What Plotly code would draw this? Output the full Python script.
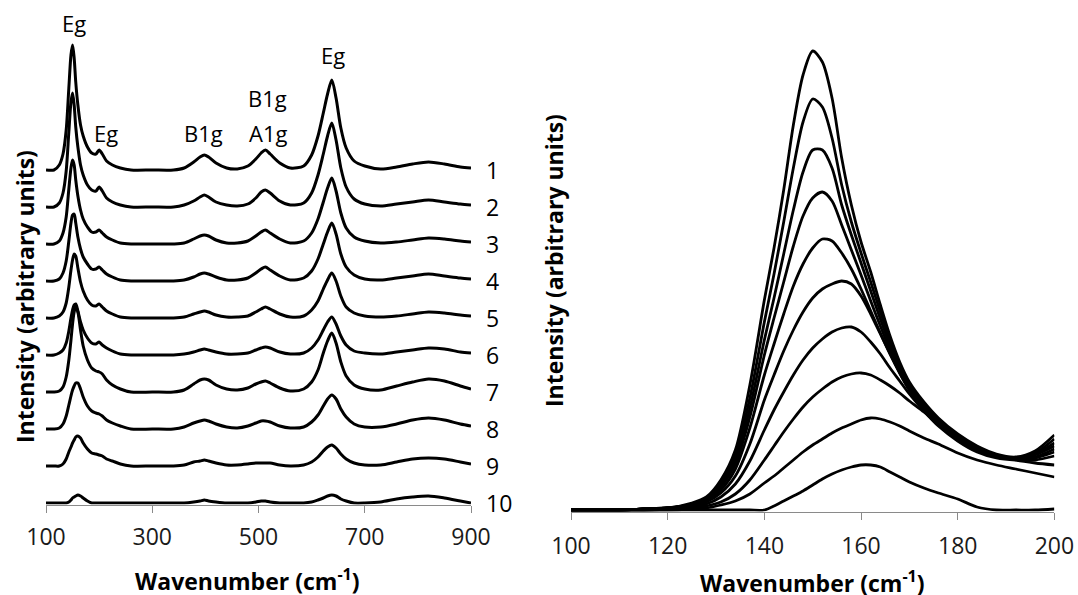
import plotly.graph_objects as go

# ---------------- Left panel: stacked Raman spectra ----------------
XL = [100, 115, 125, 132, 138, 143, 147, 150, 153, 156, 160, 165, 170, 178, 186, 194, 200, 206, 214, 225,
      240, 260, 300, 340, 360, 378, 390, 398, 406, 420, 440, 460, 480, 495, 505, 513, 522, 540, 560, 585,
      600, 612, 622, 630, 638, 646, 655, 665, 680, 700, 730, 760, 790, 820, 850, 880, 900]

C1 = [0, 0, 5, 16, 40, 82, 115, 125, 112, 88, 65, 45, 34, 23, 17, 16, 20, 16, 9, 5,
      2, 0, 0, 0, 2, 8, 13, 15, 13, 7, 2, 1, 4, 11, 17, 20, 16, 7, 2, 4,
      15, 34, 57, 76, 90, 72, 42, 22, 9, 4, 1, 3, 6, 8, 6, 3, 2]
C2 = [0, 0, 4, 14, 36, 75, 105, 114, 102, 80, 60, 42, 32, 22, 17, 16, 20, 16, 9, 5,
      2, 0, 0, 0, 2, 6, 10, 12, 10, 5, 2, 1, 3, 9, 15, 17, 14, 6, 2, 4,
      14, 32, 53, 71, 84, 67, 39, 20, 8, 3, 1, 3, 5, 7, 5, 3, 2]
C3 = [0, 0, 3, 11, 27, 55, 76, 84, 79, 64, 48, 34, 25, 17, 12, 12, 14, 11, 7, 4,
      1, 0, 0, 0, 1, 5, 8, 9, 8, 4, 1, 1, 3, 8, 12, 14, 11, 5, 1, 3,
      11, 25, 42, 56, 66, 53, 31, 16, 7, 3, 1, 2, 4, 6, 5, 3, 2]
C4 = [0, 0, 2, 8, 20, 40, 58, 66, 67, 58, 44, 32, 24, 17, 12, 12, 14, 11, 7, 4,
      1, 0, 0, 0, 1, 4, 7, 8, 7, 4, 1, 1, 3, 8, 12, 14, 11, 5, 1, 3,
      10, 22, 37, 49, 58, 47, 27, 14, 6, 2, 1, 3, 5, 7, 5, 3, 2]
C5 = [0, 0, 2, 6, 15, 31, 48, 58, 64, 62, 50, 36, 27, 18, 13, 12, 14, 11, 7, 4,
      1, 0, 0, 0, 1, 4, 6, 7, 6, 3, 1, 1, 2, 6, 9, 11, 9, 4, 1, 2,
      8, 17, 29, 38, 45, 37, 22, 11, 5, 2, 1, 2, 4, 6, 5, 3, 2]
C6 = [0, 0, 2, 5, 12, 24, 37, 45, 50, 51, 44, 33, 25, 17, 12, 11, 13, 10, 7, 4,
      1, 0, 0, 0, 1, 3, 5, 6, 5, 3, 1, 1, 2, 5, 7, 8, 7, 3, 1, 2,
      7, 15, 25, 33, 38, 31, 19, 10, 4, 2, 1, 3, 5, 7, 6, 3, 2]
C7 = [0, 0, 1, 5, 15, 32, 52, 68, 80, 85, 80, 62, 46, 32, 24, 21, 20, 18, 12, 7,
      3, 0, 0, 0, 2, 8, 12, 13, 12, 7, 3, 2, 4, 8, 10, 11, 9, 4, 1, 3,
      10, 22, 39, 51, 59, 49, 30, 16, 7, 3, 2, 6, 10, 13, 11, 6, 3]
C8 = [0, 0, 1, 5, 13, 24, 33, 39, 43, 46, 46, 40, 32, 23, 18, 16, 15, 13, 9, 6,
      3, 0, 0, 0, 2, 6, 8, 9, 8, 5, 2, 1, 3, 6, 8, 8, 7, 3, 1, 2,
      7, 14, 23, 30, 34, 30, 20, 12, 5, 2, 2, 5, 9, 11, 9, 5, 3]
C9 = [0, 0, 0, 2, 7, 14, 19, 23, 26, 29, 30, 28, 23, 17, 13, 12, 11, 10, 7, 5,
      2, 0, 0, 0, 1, 4, 5, 6, 5, 3, 1, 1, 2, 3, 3, 3, 3, 1, 0, 1,
      4, 9, 15, 19, 21, 18, 12, 7, 3, 1, 1, 4, 7, 8, 7, 4, 2]
C10 = [0, 0, 0, 0, 0, 1, 3, 5, 6, 7, 8, 7, 5, 2, 0, 0, 0, 0, 0, 0,
       0, 0, 0, 0, 0, 1, 2, 3, 2, 1, 0, 0, 0, 1, 2, 2, 1, 0, 0, 0,
       1, 3, 5, 7, 8, 7, 4, 2, 0, 0, 1, 4, 6, 7, 5, 2, 0]

LEFT_SERIES = [C1, C2, C3, C4, C5, C6, C7, C8, C9, C10]
LEFT_LABELS = ["1", "2", "3", "4", "5", "6", "7", "8", "9", "10"]
OFFSETS = [333, 296, 259, 222, 185, 148, 111, 74, 37, 0]

PEAK_TEXT = ["Eg", "Eg", "B1g", "B1g", "A1g", "Eg"]
PEAK_X = [153, 213, 397, 516, 517, 640]
PEAK_Y = [480, 370, 370, 405, 370, 448]

LEFT_TICKS = [100, 300, 500, 700, 900]

# ---------------- Right panel: overlaid low-wavenumber Eg peak ----------------
XR = [100, 110, 115, 120, 125, 128, 131, 134, 137, 140, 142, 144, 146, 148, 150, 152, 154, 156, 158, 160,
      162, 164, 166, 168, 170, 173, 176, 180, 184, 188, 192, 196, 200]

RA = [0, 0, 1, 2, 7, 13, 30, 60, 125, 210, 262, 320, 385, 435, 459, 448, 412, 352, 305, 268,
      238, 205, 174, 148, 128, 108, 92, 76, 64, 56, 53, 59, 75]
RB = [0, 0, 1, 2, 6, 12, 27, 55, 112, 188, 236, 288, 342, 388, 411, 403, 372, 325, 288, 257,
      228, 198, 170, 145, 126, 106, 90, 74, 63, 55, 52, 57, 71]
RC = [0, 0, 1, 2, 6, 11, 25, 50, 102, 170, 212, 256, 300, 338, 360, 360, 342, 305, 275, 247,
      219, 191, 165, 142, 124, 104, 88, 73, 62, 55, 52, 56, 67]
RD = [0, 0, 1, 2, 5, 10, 23, 46, 93, 155, 192, 228, 264, 294, 312, 318, 309, 285, 260, 235,
      209, 184, 160, 139, 121, 102, 87, 72, 61, 54, 51, 55, 64]
RE = [0, 0, 1, 2, 5, 9, 20, 41, 82, 135, 166, 196, 224, 246, 262, 271, 269, 257, 241, 221,
      199, 177, 156, 137, 120, 101, 86, 71, 60, 54, 51, 53, 61]
RF = [0, 0, 1, 2, 4, 8, 17, 34, 66, 110, 135, 159, 180, 198, 212, 221, 226, 229, 226, 214,
      196, 176, 156, 137, 120, 101, 85, 70, 59, 53, 51, 52, 58]
RG = [0, 0, 0, 1, 3, 6, 13, 26, 49, 80, 100, 118, 135, 150, 162, 171, 178, 182, 183, 178,
      168, 156, 142, 129, 116, 99, 84, 69, 58, 52, 50, 50, 54]
RH = [0, 0, 0, 1, 2, 4, 8, 16, 30, 50, 64, 78, 91, 103, 113, 121, 128, 133, 136, 137,
      135, 130, 124, 117, 109, 98, 86, 73, 62, 55, 50, 47, 45]
RI = [0, 0, 0, 0, 1, 2, 5, 9, 16, 27, 34, 42, 50, 58, 65, 71, 77, 82, 86, 90,
      92, 91, 88, 84, 79, 72, 66, 57, 50, 45, 41, 37, 33]
RJ = [0, 0, 0, 0, 0, 0, 0, 0, 0, 0, 4, 9, 14, 19, 25, 31, 36, 40, 43, 45,
      45, 43, 38, 33, 28, 22, 17, 11, 3, 0, 0, 0, 1]

RIGHT_SERIES = [RA, RB, RC, RD, RE, RF, RG, RH, RI, RJ]
RIGHT_TICKS = [100, 120, 140, 160, 180, 200]

# ---------------- Figure ----------------
W, H = 1078, 595
FONT = "'Open Sans', Lato, sans-serif"

fig = go.Figure()

for ys, off in zip(LEFT_SERIES, OFFSETS):
    fig.add_trace(go.Scatter(
        x=XL, y=[v + off for v in ys], mode="lines",
        line=dict(color="black", width=3, shape="spline", smoothing=0.8),
        xaxis="x", yaxis="y", showlegend=False, hoverinfo="skip"))

for ys in RIGHT_SERIES:
    fig.add_trace(go.Scatter(
        x=XR, y=ys, mode="lines",
        line=dict(color="black", width=2.8, shape="spline", smoothing=0.8),
        xaxis="x2", yaxis="y2", showlegend=False, hoverinfo="skip"))


def px_x(p):
    return p / W


def px_y(p):
    return 1 - p / H


axis_common = dict(showline=True, linecolor="#8a8a8a", linewidth=1, ticks="outside",
                   ticklen=7, tickcolor="#8a8a8a", tickwidth=1, showgrid=False,
                   zeroline=False, automargin=False,
                   tickfont=dict(family=FONT, size=23, color="#1a1a1a"))
yaxis_common = dict(showline=False, showticklabels=False, ticks="", showgrid=False,
                    zeroline=False, automargin=False)

fig.update_layout(
    width=W, height=H,
    margin=dict(l=0, r=0, t=0, b=0, pad=0, autoexpand=False),
    paper_bgcolor="white", plot_bgcolor="white",
    font=dict(family=FONT, color="black"),
    xaxis=dict(domain=[px_x(46), px_x(471)], range=[100, 900], tickvals=LEFT_TICKS,
               ticktext=[str(t) for t in LEFT_TICKS], anchor="y", ticklabelstandoff=5,
               **axis_common),
    yaxis=dict(domain=[px_y(504.5), px_y(16.5)], range=[-1.5, 486.5], anchor="x", **yaxis_common),
    xaxis2=dict(domain=[px_x(571), px_x(1054.4)], range=[100, 200], tickvals=RIGHT_TICKS,
                ticktext=[str(t) for t in RIGHT_TICKS], anchor="y2", ticklabelstandoff=7,
                **axis_common),
    yaxis2=dict(domain=[px_y(511.5), px_y(21.5)], range=[-1.5, 488.5], anchor="x2", **yaxis_common),
)

ann = []
for t, x, y in zip(PEAK_TEXT, PEAK_X, PEAK_Y):
    ann.append(dict(text=t, x=x, y=y, xref="x", yref="y", showarrow=False,
                    font=dict(family=FONT, size=22, color="black"),
                    xanchor="center", yanchor="middle"))
for lab, off in zip(LEFT_LABELS, OFFSETS):
    ann.append(dict(text=lab, x=px_x(484), y=off, xref="paper", yref="y", showarrow=False,
                    font=dict(family=FONT, size=23, color="black"),
                    xanchor="left", yanchor="middle"))

title_font = dict(family=FONT, size=23, color="black")
ann.append(dict(text="<b>Wavenumber (cm<sup>-1</sup>)</b>", x=px_x(247), y=px_y(580),
                xref="paper", yref="paper", showarrow=False, font=title_font,
                xanchor="center", yanchor="middle"))
ann.append(dict(text="<b>Wavenumber (cm<sup>-1</sup>)</b>", x=px_x(812), y=px_y(582),
                xref="paper", yref="paper", showarrow=False, font=title_font,
                xanchor="center", yanchor="middle"))
ann.append(dict(text="<b>Intensity (arbitrary units)</b>", x=px_x(25), y=px_y(297),
                xref="paper", yref="paper", showarrow=False, font=title_font, textangle=-90,
                xanchor="center", yanchor="middle"))
ann.append(dict(text="<b>Intensity (arbitrary units)</b>", x=px_x(554), y=px_y(261),
                xref="paper", yref="paper", showarrow=False, font=title_font, textangle=-90,
                xanchor="center", yanchor="middle"))

fig.update_layout(annotations=ann)

fig.write_html("out.html")
